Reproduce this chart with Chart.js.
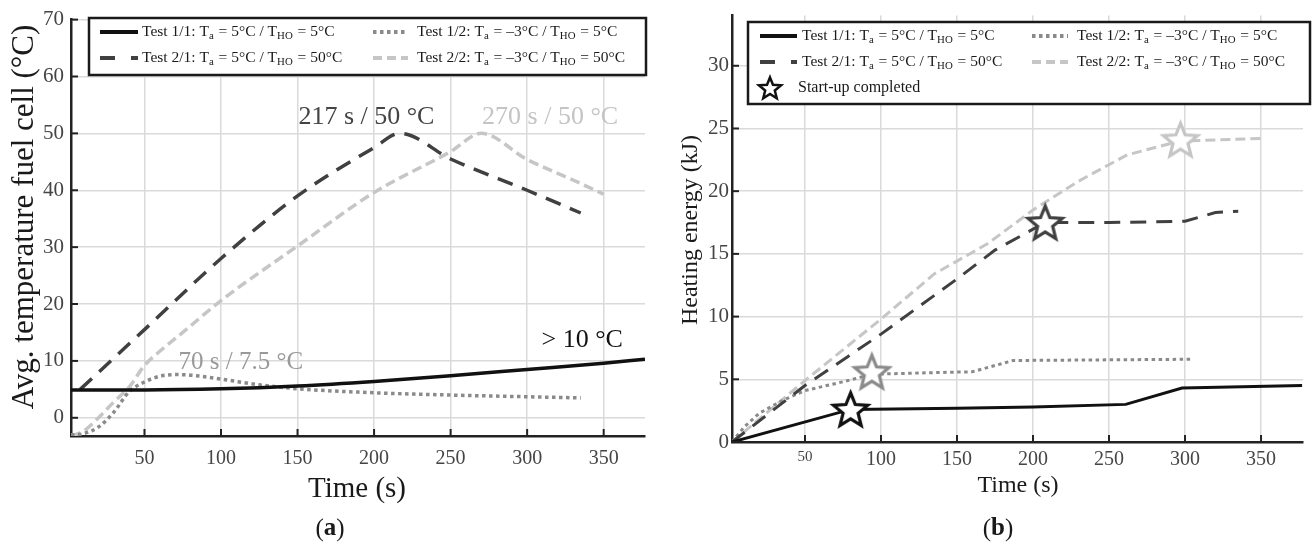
<!DOCTYPE html>
<html>
<head>
<meta charset="utf-8">
<title>Fuel cell start-up</title>
<script src="https://cdn.jsdelivr.net/npm/chart.js@4.4.1/dist/chart.umd.min.js"></script>
<style>
  html, body { margin: 0; padding: 0; background: #fff; }
  #wrap { position: relative; width: 1312px; height: 545px; }
  canvas { position: absolute; top: 0; }
  #chart-a { left: 0; }
  #chart-b { left: 656px; }
</style>
</head>
<body>
<div id="wrap">
  <canvas id="chart-a" width="656" height="545" style="width:656px;height:545px"></canvas>
  <canvas id="chart-b" width="656" height="545" style="width:656px;height:545px"></canvas>
</div>
<script>
// ---- data: (a) average fuel cell temperature (°C) over time (s)
const tempTime11 = [2, 50, 100, 150, 200, 250, 300, 350, 377];
const tempTest11 = [4.9, 4.9, 5.1, 5.6, 6.4, 7.4, 8.5, 9.6, 10.3];
const tempTime21 = [8, 50, 100, 150, 200, 217, 250, 300, 335];
const tempTest21 = [5, 15.5, 28, 39, 47.5, 50, 45.5, 40, 36];
const tempTime12 = [2, 10, 20, 30, 40, 50, 60, 70, 80, 100, 125, 150, 200, 250, 300, 335];
const tempTest12 = [-3, -2.8, -1.6, 1, 4.6, 6.3, 7.3, 7.6, 7.5, 6.8, 5.8, 5.1, 4.4, 4.0, 3.7, 3.5];
const tempTime22 = [2, 10, 20, 30, 40, 50, 60, 75, 100, 150, 200, 250, 270, 300, 330, 350];
const tempTest22 = [-3.2, -2.4, 0, 2.8, 5.4, 9.2, 11.7, 15.0, 20.6, 30.2, 39.6, 46.8, 50, 45.4, 41.8, 39.3];

// ---- data: (b) heating energy (kJ) over time (s)
const energyTime11 = [2, 80, 150, 200, 261, 298, 377];
const energyTest11 = [0, 2.6, 2.7, 2.8, 3.0, 4.3, 4.5];
const energyTime21 = [2, 50, 100, 150, 175, 208, 250, 300, 320, 335];
const energyTest21 = [0, 4.5, 8.6, 13, 15.3, 17.5, 17.5, 17.6, 18.3, 18.4];
const energyTime12 = [2, 10, 20, 35, 50, 75, 94, 125, 160, 175, 187, 250, 305];
const energyTest12 = [0, 1.2, 2.3, 3.3, 4.1, 4.8, 5.4, 5.5, 5.6, 6.1, 6.5, 6.55, 6.6];
const energyTime22 = [2, 50, 100, 135, 170, 200, 230, 262, 297, 350];
const energyTest22 = [0, 4.9, 9.8, 13.4, 15.8, 18.5, 20.8, 22.9, 24.0, 24.2];

// start-up completed markers, one per test (1/1, 2/1, 1/2, 2/2)
const startupTime = [80, 208, 94, 297];
const startupEnergy = [2.6, 17.5, 5.6, 24.1];

// tick labels
const timeTicks = [50, 100, 150, 200, 250, 300, 350];
const tempTicks = [0, 10, 20, 30, 40, 50, 60, 70];
const energyTicks = [0, 5, 10, 15, 20, 25, 30];

const seriesLabels = [
  'Test 1/1: T_{a} = 5°C / T_{HO} = 5°C',
  'Test 2/1: T_{a} = 5°C / T_{HO} = 50°C',
  'Test 1/2: T_{a} = –3°C / T_{HO} = 5°C',
  'Test 2/2: T_{a} = –3°C / T_{HO} = 50°C'
];

// ---- styles
const FONT = '"Liberation Serif", "DejaVu Serif", serif';
const seriesStyles = [
  { color: '#111111', dash: [], legendDash: [] },
  { color: '#404040', dash: [16, 10], legendDash: [15, 16] },
  { color: '#8a8a8a', dash: [3.5, 3.5], legendDash: [3.5, 3.5] },
  { color: '#c6c6c6', dash: [10, 5], legendDash: [9, 5] }
];

Chart.defaults.font.family = FONT;

function toXY(xs, ys) {
  return xs.map((x, i) => ({ x: x, y: ys[i] }));
}

function makeStar(color, r, lw) {
  const c = document.createElement('canvas');
  const s = Math.ceil(2 * r + 2 * lw);
  c.width = s;
  c.height = s;
  const g = c.getContext('2d');
  g.translate(s / 2, s / 2 + r * 0.08);
  g.beginPath();
  for (let i = 0; i < 10; i++) {
    const rad = i % 2 === 0 ? r : r * 0.44;
    const a = -Math.PI / 2 + i * Math.PI / 5;
    g.lineTo(rad * Math.cos(a), rad * Math.sin(a));
  }
  g.closePath();
  g.fillStyle = '#fff';
  g.fill();
  g.lineWidth = lw;
  g.lineJoin = 'miter';
  g.strokeStyle = color;
  g.stroke();
  return c;
}

// text with _{...} subscripts
function drawRich(ctx, str, x, y, size) {
  const parts = str.split(/(_\{[^}]*\})/).filter(Boolean);
  ctx.textAlign = 'left';
  ctx.textBaseline = 'middle';
  parts.forEach(p => {
    if (p.startsWith('_{')) {
      const t = p.slice(2, -1);
      ctx.font = (size * 0.7) + 'px ' + FONT;
      ctx.fillText(t, x, y + size * 0.25);
      x += ctx.measureText(t).width + 1;
    } else {
      ctx.font = size + 'px ' + FONT;
      ctx.fillText(p, x, y);
      x += ctx.measureText(p).width;
    }
  });
}

function scaleOpts(min, max, tickValues, tickFont, pad, fitSize, horizontal) {
  return {
    type: 'linear',
    min: min,
    max: max,
    afterBuildTicks: s => { s.ticks = tickValues.map(v => ({ value: v })); },
    afterFit: s => {
      if (horizontal) s.height = fitSize; else s.width = fitSize;
    },
    grid: { color: '#dadada', lineWidth: 1.5, drawTicks: false },
    border: { display: true, color: '#222', width: 2.5 },
    ticks: { color: '#454545', font: tickFont, padding: pad, autoSkip: false, maxRotation: 0 }
  };
}

// custom drawing: inward tick marks, boxed legend, notes and titles
const decorPlugin = {
  id: 'decor',
  afterDatasetsDraw(chart, args, opts) {
    const ctx = chart.ctx;
    const area = chart.chartArea;
    const xs = chart.scales.x, ys = chart.scales.y;
    ctx.save();

    // inward tick marks
    ctx.strokeStyle = '#222';
    ctx.lineWidth = 2;
    ctx.setLineDash([]);
    xs.ticks.forEach(t => {
      const px = xs.getPixelForValue(t.value);
      ctx.beginPath();
      ctx.moveTo(px, area.bottom);
      ctx.lineTo(px, area.bottom - 7);
      ctx.stroke();
    });
    ys.ticks.forEach(t => {
      const py = ys.getPixelForValue(t.value);
      ctx.beginPath();
      ctx.moveTo(area.left, py);
      ctx.lineTo(area.left + 7, py);
      ctx.stroke();
    });

    // notes on the curves
    (opts.notes || []).forEach(n => {
      ctx.font = n.size + 'px ' + FONT;
      ctx.fillStyle = n.color;
      ctx.textAlign = 'center';
      ctx.textBaseline = 'middle';
      ctx.fillText(n.text, xs.getPixelForValue(n.x), ys.getPixelForValue(n.y));
    });

    // legend box
    const lg = opts.legend;
    ctx.fillStyle = '#fff';
    ctx.fillRect(lg.box[0], lg.box[1], lg.box[2], lg.box[3]);
    ctx.strokeStyle = '#1a1a1a';
    ctx.lineWidth = 2.5;
    ctx.strokeRect(lg.box[0], lg.box[1], lg.box[2], lg.box[3]);
    seriesLabels.forEach((label, i) => {
      const col = lg.cols[i < 2 ? 0 : 1];
      const y = lg.rows[i % 2];
      const st = seriesStyles[i];
      ctx.strokeStyle = st.color;
      ctx.lineWidth = 4;
      ctx.lineCap = 'butt';
      ctx.setLineDash(st.legendDash);
      ctx.beginPath();
      ctx.moveTo(col.sx, y);
      ctx.lineTo(col.ex, y);
      ctx.stroke();
      ctx.setLineDash([]);
      ctx.fillStyle = '#1a1a1a';
      drawRich(ctx, label, col.tx, y, lg.size);
    });
    if (lg.star) {
      const img = makeStar('#111', 11.5, 2.5);
      ctx.drawImage(img, lg.star.x - img.width / 2, lg.star.y - img.height / 2);
      ctx.fillStyle = '#1a1a1a';
      drawRich(ctx, 'Start-up completed', lg.star.tx, lg.star.y, lg.size + 0.5);
    }

    // axis titles and panel letter
    const tt = opts.titles;
    ctx.fillStyle = '#1a1a1a';
    ctx.textAlign = 'center';
    ctx.textBaseline = 'middle';
    ctx.font = tt.xSize + 'px ' + FONT;
    ctx.fillText(tt.x, tt.xPos[0], tt.xPos[1]);
    ctx.save();
    ctx.translate(tt.yPos[0], tt.yPos[1]);
    ctx.rotate(-Math.PI / 2);
    ctx.font = tt.ySize + 'px ' + FONT;
    ctx.fillText(tt.y, 0, 0);
    ctx.restore();

    const [px, py] = tt.panelPos;
    ctx.font = '25px ' + FONT;
    const wOpen = ctx.measureText('(').width;
    ctx.font = 'bold 25px ' + FONT;
    const wLetter = ctx.measureText(tt.panel).width;
    const total = wOpen * 2 + wLetter;
    ctx.textAlign = 'left';
    ctx.font = '25px ' + FONT;
    ctx.fillText('(', px - total / 2, py);
    ctx.fillText(')', px - total / 2 + wOpen + wLetter, py);
    ctx.font = 'bold 25px ' + FONT;
    ctx.fillText(tt.panel, px - total / 2 + wOpen, py);

    ctx.restore();
  }
};

function lineSets(pairs, width, smooth) {
  return pairs.map((p, i) => ({
    label: seriesLabels[i],
    data: toXY(p[0], p[1]),
    borderColor: seriesStyles[i].color,
    borderDash: seriesStyles[i].dash,
    borderWidth: width,
    pointRadius: 0,
    fill: false,
    tension: smooth ? 0.4 : 0,
    cubicInterpolationMode: smooth ? 'monotone' : 'default',
    order: 1
  }));
}

// ---- chart (a)
new Chart(document.getElementById('chart-a'), {
  type: 'line',
  data: {
    datasets: lineSets([
      [tempTime11, tempTest11],
      [tempTime21, tempTest21],
      [tempTime12, tempTest12],
      [tempTime22, tempTest22]
    ], 3.5, true)
  },
  options: {
    responsive: false,
    animation: false,
    layout: { padding: { top: 19, right: 11, left: 0, bottom: 0 } },
    plugins: {
      legend: { display: false },
      tooltip: { enabled: false },
      decor: {
        notes: [
          { text: '217 s / 50 °C', x: 195, y: 52.8, color: '#444', size: 26 },
          { text: '270 s / 50 °C', x: 315, y: 52.8, color: '#c4c4c4', size: 26 },
          { text: '70 s / 7.5 °C', x: 113, y: 9.7, color: '#999', size: 25 },
          { text: '> 10 °C', x: 336, y: 13.7, color: '#111', size: 26 }
        ],
        legend: {
          box: [89, 18, 557, 57],
          rows: [32, 58],
          cols: [{ sx: 100, ex: 138, tx: 142 }, { sx: 373, ex: 408, tx: 417 }],
          size: 15.5
        },
        titles: {
          x: 'Time (s)', xPos: [357, 489], xSize: 29,
          y: 'Avg. temperature fuel cell (°C)', yPos: [25, 217], ySize: 31,
          panel: 'a', panelPos: [330, 529]
        }
      }
    },
    scales: {
      x: scaleOpts(2, 377, timeTicks, { size: 20 }, 11, 109, true),
      y: scaleOpts(-3.2, 70, tempTicks, { size: 21 }, 7, 71, false)
    }
  },
  plugins: [decorPlugin]
});

// ---- chart (b)
const starSets = startupTime.map((t, i) => ({
  label: 'Start-up completed',
  data: [{ x: t, y: startupEnergy[i] }],
  showLine: false,
  pointRadius: 8,
  pointStyle: makeStar(seriesStyles[i].color, 18, 3.2),
  order: 0
}));

new Chart(document.getElementById('chart-b'), {
  type: 'line',
  data: {
    datasets: starSets.concat(lineSets([
      [energyTime11, energyTest11],
      [energyTime21, energyTest21],
      [energyTime12, energyTest12],
      [energyTime22, energyTest22]
    ], 3, false))
  },
  options: {
    responsive: false,
    animation: false,
    layout: { padding: { top: 14, right: 5, left: 0, bottom: 0 } },
    plugins: {
      legend: { display: false },
      tooltip: { enabled: false },
      decor: {
        notes: [],
        legend: {
          box: [92, 22, 562, 82],
          rows: [36, 62],
          cols: [{ sx: 104, ex: 141, tx: 146 }, { sx: 376, ex: 412, tx: 421 }],
          star: { x: 114, y: 88, tx: 142 },
          size: 15.5
        },
        titles: {
          x: 'Time (s)', xPos: [362, 486], xSize: 24,
          y: 'Heating energy (kJ)', yPos: [35, 230], ySize: 24,
          panel: 'b', panelPos: [342, 529]
        }
      }
    },
    scales: {
      x: scaleOpts(2, 377.6, timeTicks, c => ({ size: c.tick && c.tick.value === 50 ? 15 : 20 }), 6, 103, true),
      y: scaleOpts(0, 34, energyTicks, { size: 21 }, 3, 76, false)
    }
  },
  plugins: [decorPlugin]
});
</script>
</body>
</html>
